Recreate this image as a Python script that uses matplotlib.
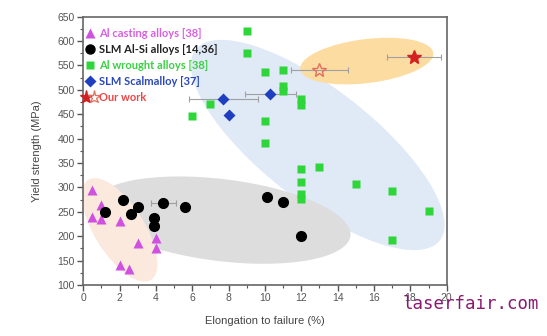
import matplotlib
matplotlib.use('Agg')
import matplotlib.pyplot as plt
from matplotlib.patches import Ellipse
from matplotlib.lines import Line2D
from matplotlib.legend_handler import HandlerTuple
from matplotlib.transforms import ScaledTranslation
from matplotlib.ticker import MultipleLocator

plt.rcParams['font.family'] = ['Liberation Sans', 'DejaVu Sans']

# Al casting alloys [38]
cast_el = [0.5, 1.0, 0.5, 1.0, 2.0, 3.0, 4.0, 4.0, 2.0, 2.5]
cast_ys = [295, 265, 240, 236, 232, 186, 196, 176, 141, 132]

# SLM Al-Si alloys [14,36]
alsi_el = [1.2, 2.2, 2.6, 3.0, 3.9, 3.9, 4.4, 5.6, 10.1, 11.0, 12.0]
alsi_ys = [250, 274, 245, 259, 238, 220, 269, 260, 280, 270, 200]
alsi_err = [0, 0, 0, 0, 0, 0, 0.7, 0, 0, 0, 0]

# Al wrought alloys [38]
wr_el = [9, 9, 10, 11, 11, 11, 12, 12, 7, 6, 10, 10,
         12, 13, 12, 12, 12, 15, 17, 19, 17]
wr_ys = [620, 576, 536, 541, 507, 497, 482, 468, 472, 446, 437, 392,
         337, 342, 312, 286, 277, 307, 293, 252, 192]

# SLM Scalmalloy [37]
sc_el = [7.7, 8.0, 10.3]
sc_ys = [481, 449, 492]
sc_err = [1.9, 0, 1.4]

# Our work
ow_el = [13.0, 18.2]
ow_ys = [541, 567]
ow_err = [1.55, 1.5]

# shaded groups: centre (data), width/height (inch), angle (deg), colour
groups = [
    ((12.9, 387), 3.10, 1.12, -38, '#dfeaf6'),
    ((7.6, 233), 2.60, 0.82, -7, '#dddddd'),
    ((2.0, 213), 1.18, 0.50, -58, '#fce9de'),
    ((15.6, 559), 1.34, 0.44, 7, '#fcdca0'),
]

fig = plt.figure(figsize=(5.47, 3.36), dpi=100)
ax = fig.add_axes([0.1523, 0.1518, 0.6643, 0.7985])

for (cx, cy), w, h, ang, col in groups:
    trans = fig.dpi_scale_trans + ScaledTranslation(cx, cy, ax.transData)
    e = Ellipse((0, 0), w, h, angle=ang, transform=trans,
                facecolor=col, edgecolor='none', zorder=0)
    ax.add_patch(e)

ebar = dict(ecolor='#a0a0a0', elinewidth=0.8, capsize=2, capthick=0.8,
            linestyle='none', zorder=2)
ax.errorbar(alsi_el, alsi_ys, xerr=alsi_err, **ebar)
ax.errorbar(sc_el, sc_ys, xerr=sc_err, **ebar)
ax.errorbar(ow_el, ow_ys, xerr=ow_err, **ebar)

ax.plot(cast_el, cast_ys, '^', color='#d050e0', ms=7.5, mec='none', zorder=3)
ax.plot(alsi_el, alsi_ys, 'o', color='black', ms=7, zorder=3)
ax.plot(wr_el, wr_ys, 's', color='#2fd63a', ms=5.5, mec='none', zorder=3)
ax.plot(sc_el, sc_ys, 'D', color='#1f3fc0', ms=6.5, mec='none', zorder=3)
ax.plot(ow_el[1], ow_ys[1], '*', color='#d42020', ms=10, mec='#d42020', zorder=3)
ax.plot(ow_el[0], ow_ys[0], '*', color='none', ms=10, mec='#e07060',
        mew=1.0, zorder=3)

ax.set_xlim(0, 20)
ax.set_ylim(100, 650)
ax.xaxis.set_major_locator(MultipleLocator(2))
ax.xaxis.set_minor_locator(MultipleLocator(1))
ax.yaxis.set_major_locator(MultipleLocator(50))
ax.yaxis.set_minor_locator(MultipleLocator(25))
ax.tick_params(which='major', direction='out', length=4, width=1,
               color='#555555', labelsize=7.5, labelcolor='#555555', pad=2)
ax.tick_params(which='minor', direction='out', length=2.5, width=0.8,
               color='#555555')
for s in ax.spines.values():
    s.set_color('#666666')
    s.set_linewidth(1.2)

ax.set_xlabel('Elongation to failure (%)', fontsize=8, color='#444444',
              labelpad=9)
ax.set_ylabel('Yield strength (MPa)', fontsize=8, color='#444444',
              labelpad=11)

handles = [
    Line2D([], [], marker='^', ls='none', color='#d050e0', ms=7.5, mec='none'),
    Line2D([], [], marker='o', ls='none', color='black', ms=6.5),
    Line2D([], [], marker='s', ls='none', color='#2fd63a', ms=6, mec='none'),
    Line2D([], [], marker='D', ls='none', color='#1f3fc0', ms=6, mec='none'),
    (Line2D([], [], marker='*', ls='none', color='#d42020', ms=9.5),
     Line2D([], [], marker='*', ls='none', color='none', ms=9.5,
            mec='#e07060', mew=0.9)),
]
labels = ['Al casting alloys [38]', 'SLM Al-Si alloys [14,36]',
          'Al wrought alloys [38]', 'SLM Scalmalloy [37]', 'Our work']
label_cols = ['#d860e0', '#222222', '#3ad044', '#2a48b8', '#ee4444']
leg = ax.legend(handles, labels, loc='upper left',
                bbox_to_anchor=(0.006, 0.958), frameon=False,
                handlelength=0.8, handletextpad=0.4, labelspacing=0.45,
                borderpad=0, borderaxespad=0,
                handler_map={tuple: HandlerTuple(ndivide=None, pad=0.6)},
                prop={'family': 'Lato', 'weight': 'bold', 'size': 8})
for t, c in zip(leg.get_texts(), label_cols):
    t.set_color(c)

fig.text(0.985, 0.095, 'laserfair.com', ha='right', va='center',
         family='DejaVu Sans Mono', fontsize=12.5, color='#8a1a70')

fig.savefig('out.png', dpi=100)
